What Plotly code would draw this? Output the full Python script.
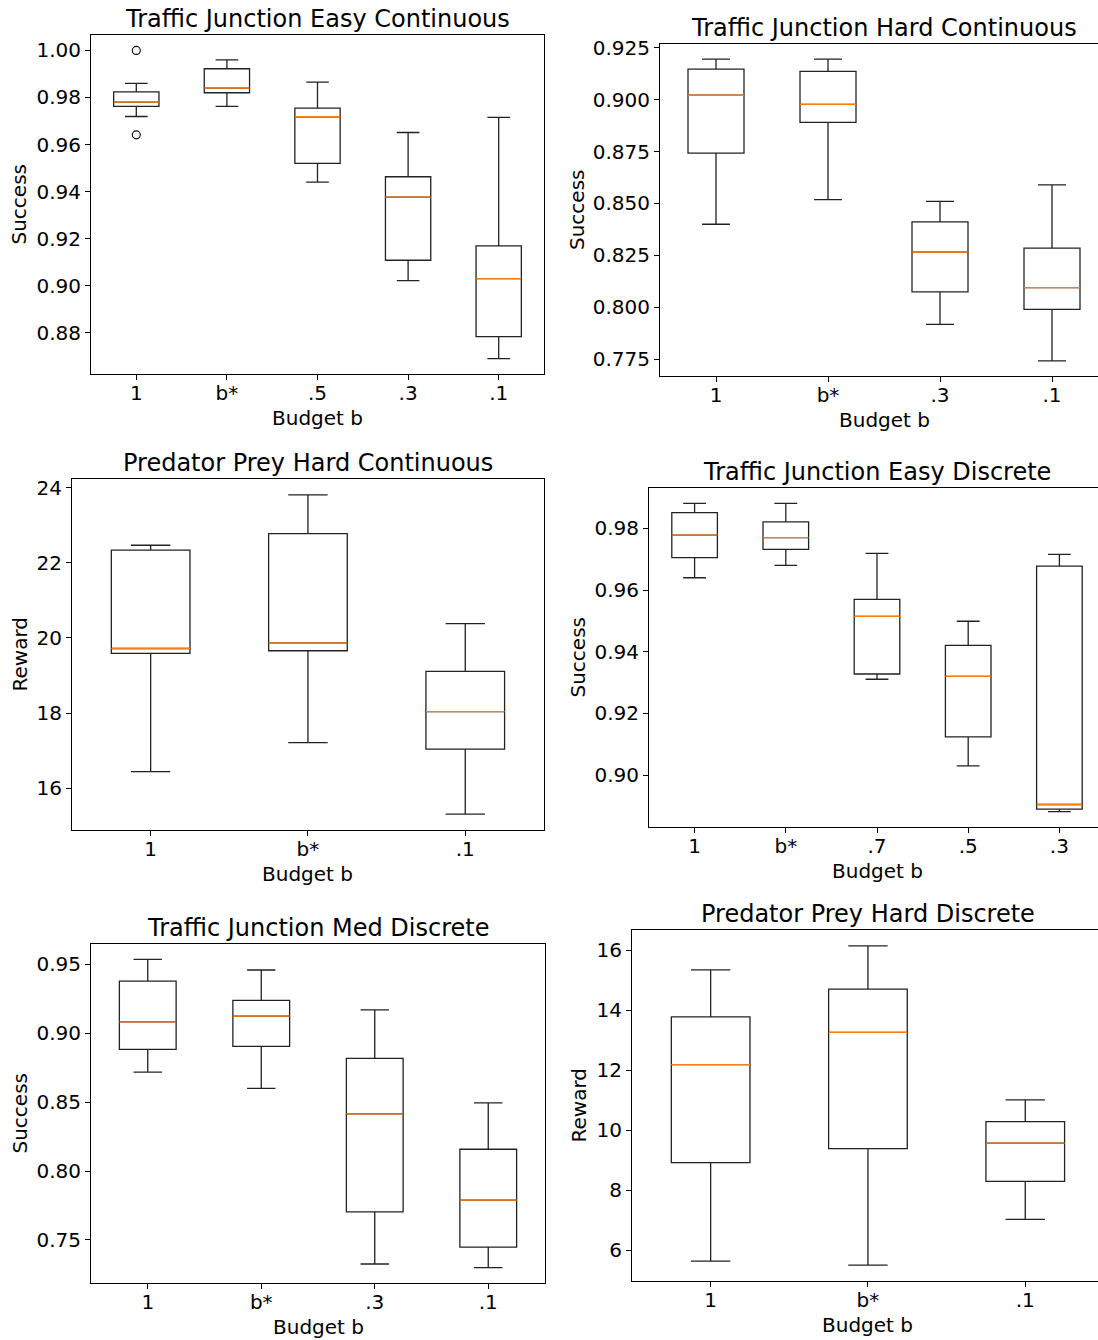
import plotly.graph_objects as go

# ---------------- DATA ----------------
# Panel 1: Traffic Junction Easy Continuous
tjec_labels = ["1", "b*", ".5", ".3", ".1"]
tjec_lo = [0.9719, 0.9762, 0.9440, 0.9021, 0.8690]
tjec_q1 = [0.9762, 0.9820, 0.9520, 0.9108, 0.8783]
tjec_med = [0.9780, 0.9840, 0.9718, 0.9376, 0.9030]
tjec_q3 = [0.9824, 0.9922, 0.9755, 0.9463, 0.9169]
tjec_hi = [0.9860, 0.9960, 0.9865, 0.9651, 0.9715]
tjec_out_x = ["1", "1"]
tjec_out_y = [1.000, 0.9641]

# Panel 2: Traffic Junction Hard Continuous
tjhc_labels = ["1", "b*", ".3", ".1"]
tjhc_lo = [0.8400, 0.8518, 0.7918, 0.7742]
tjhc_q1 = [0.8742, 0.8890, 0.8074, 0.7990]
tjhc_med = [0.9021, 0.8977, 0.8266, 0.8095]
tjhc_q3 = [0.9147, 0.9136, 0.8411, 0.8285]
tjhc_hi = [0.9195, 0.9195, 0.8510, 0.8589]

# Panel 3: Predator Prey Hard Continuous
pphc_labels = ["1", "b*", ".1"]
pphc_lo = [16.44, 17.21, 15.31]
pphc_q1 = [19.59, 19.66, 17.04]
pphc_med = [19.72, 19.87, 18.04]
pphc_q3 = [22.34, 22.78, 19.11]
pphc_hi = [22.47, 23.81, 20.38]

# Panel 4: Traffic Junction Easy Discrete
tjed_labels = ["1", "b*", ".7", ".5", ".3"]
tjed_lo = [0.9640, 0.9680, 0.9311, 0.9030, 0.8882]
tjed_q1 = [0.9705, 0.9732, 0.9328, 0.9124, 0.8890]
tjed_med = [0.9778, 0.9770, 0.9515, 0.9320, 0.8905]
tjed_q3 = [0.9851, 0.9821, 0.9570, 0.9421, 0.9678]
tjed_hi = [0.9881, 0.9881, 0.9719, 0.9499, 0.9716]

# Panel 5: Traffic Junction Med Discrete
tjmd_labels = ["1", "b*", ".3", ".1"]
tjmd_lo = [0.8718, 0.8600, 0.7325, 0.7299]
tjmd_q1 = [0.8883, 0.8905, 0.7704, 0.7447]
tjmd_med = [0.9083, 0.9124, 0.8415, 0.7789]
tjmd_q3 = [0.9379, 0.9238, 0.8818, 0.8158]
tjmd_hi = [0.9536, 0.9459, 0.9170, 0.8495]

# Panel 6: Predator Prey Hard Discrete
pphd_labels = ["1", "b*", ".1"]
pphd_lo = [5.64, 5.51, 7.03]
pphd_q1 = [8.92, 9.39, 8.30]
pphd_med = [12.19, 13.26, 9.57]
pphd_q3 = [13.78, 14.70, 10.29]
pphd_hi = [15.34, 16.14, 11.01]

# ---------------- LAYOUT CONSTANTS ----------------
W, H = 1098, 1340
FONT = "DejaVu Sans"
BOX_COLOR = "#222222"
MED_COLOR = "#ff7f0e"

panels = [
    dict(title="Traffic Junction Easy Continuous", ylabel="Success",
         labels=tjec_labels, lo=tjec_lo, q1=tjec_q1, med=tjec_med, q3=tjec_q3, hi=tjec_hi,
         out_x=tjec_out_x, out_y=tjec_out_y,
         box=(91, 544, 35, 374), spacing=90.6, dtick=0.02, fmt=".2f", ylab_x=19, right_cut=False),
    dict(title="Traffic Junction Hard Continuous", ylabel="Success",
         labels=tjhc_labels, lo=tjhc_lo, q1=tjhc_q1, med=tjhc_med, q3=tjhc_q3, hi=tjhc_hi,
         out_x=[], out_y=[],
         box=(660, 1098, 44, 376), spacing=112.0, dtick=0.025, fmt=".3f", ylab_x=577, right_cut=True),
    dict(title="Predator Prey Hard Continuous", ylabel="Reward",
         labels=pphc_labels, lo=pphc_lo, q1=pphc_q1, med=pphc_med, q3=pphc_q3, hi=pphc_hi,
         out_x=[], out_y=[],
         box=(72, 544, 479, 830), spacing=157.3, dtick=2, fmt="d", ylab_x=19, right_cut=False),
    dict(title="Traffic Junction Easy Discrete", ylabel="Success",
         labels=tjed_labels, lo=tjed_lo, q1=tjed_q1, med=tjed_med, q3=tjed_q3, hi=tjed_hi,
         out_x=[], out_y=[],
         box=(649, 1098, 488, 827), spacing=91.2, dtick=0.02, fmt=".2f", ylab_x=577, right_cut=True),
    dict(title="Traffic Junction Med Discrete", ylabel="Success",
         labels=tjmd_labels, lo=tjmd_lo, q1=tjmd_q1, med=tjmd_med, q3=tjmd_q3, hi=tjmd_hi,
         out_x=[], out_y=[],
         box=(91, 545, 944, 1283), spacing=113.5, dtick=0.05, fmt=".2f", ylab_x=19, right_cut=False),
    dict(title="Predator Prey Hard Discrete", ylabel="Reward",
         labels=pphd_labels, lo=pphd_lo, q1=pphd_q1, med=pphd_med, q3=pphd_q3, hi=pphd_hi,
         out_x=[], out_y=[],
         box=(632, 1098, 930, 1281), spacing=157.3, dtick=2, fmt="d", ylab_x=578, right_cut=True),
]

fig = go.Figure()
annotations = []
layout = {}

for i, p in enumerate(panels, start=1):
    sfx = "" if i == 1 else str(i)
    xa, ya = "x" + sfx, "y" + sfx
    left, right, top, bottom = p["box"]
    n = len(p["labels"])
    pos = list(range(1, n + 1))
    label_pos = dict(zip(p["labels"], pos))

    # main boxes
    fig.add_trace(go.Box(
        x=pos, q1=p["q1"], median=p["med"], q3=p["q3"],
        lowerfence=p["lo"], upperfence=p["hi"],
        width=0.5, whiskerwidth=0.5, boxpoints=False,
        fillcolor="rgba(255,255,255,0)",
        line=dict(color=BOX_COLOR, width=1.3),
        xaxis=xa, yaxis=ya, showlegend=False, hoverinfo="skip"))
    # orange median lines
    fig.add_trace(go.Box(
        x=pos, q1=p["med"], median=p["med"], q3=p["med"],
        lowerfence=p["med"], upperfence=p["med"],
        width=0.5, whiskerwidth=0.0, boxpoints=False,
        fillcolor="rgba(255,255,255,0)",
        line=dict(color=MED_COLOR, width=1.3),
        xaxis=xa, yaxis=ya, showlegend=False, hoverinfo="skip"))
    # outliers
    if p["out_y"]:
        fig.add_trace(go.Scatter(
            x=[label_pos[v] for v in p["out_x"]], y=p["out_y"], mode="markers",
            marker=dict(symbol="circle-open", size=8, color="black", line=dict(width=1.1)),
            xaxis=xa, yaxis=ya, showlegend=False, hoverinfo="skip"))

    # ranges (matplotlib-like 5% padding)
    vals = p["lo"] + p["hi"] + p["out_y"]
    vmin, vmax = min(vals), max(vals)
    pad = 0.05 * (vmax - vmin)
    x_end = 0.5 + (right - left) / p["spacing"]

    layout["xaxis" + sfx] = dict(
        domain=[left / W, right / W], anchor=ya, range=[0.5, x_end],
        tickmode="array", tickvals=pos, ticktext=p["labels"],
        showline=True, linecolor="black", linewidth=1, mirror=True,
        ticks="outside", ticklen=5, tickcolor="black", tickwidth=1,
        ticklabelstandoff=-4,
        showgrid=False, zeroline=False, automargin=False,
        tickfont=dict(family=FONT, size=20, color="black"))
    layout["yaxis" + sfx] = dict(
        domain=[1 - bottom / H, 1 - top / H], anchor=xa,
        range=[vmin - pad, vmax + pad], dtick=p["dtick"], tick0=0,
        tickformat=p["fmt"],
        showline=True, linecolor="black", linewidth=1,
        mirror=not p["right_cut"],
        ticks="outside", ticklen=5, tickcolor="black", tickwidth=1,
        showgrid=False, zeroline=False, automargin=False,
        tickfont=dict(family=FONT, size=20, color="black"))

    full_right = left + n * p["spacing"]
    cx = (left + full_right) / 2
    # title
    annotations.append(dict(
        text=p["title"], x=cx / W, y=1 - (top - 16) / H, xref="paper", yref="paper",
        xanchor="center", yanchor="middle", showarrow=False,
        font=dict(family=FONT, size=24, color="black")))
    # x label
    annotations.append(dict(
        text="Budget b", x=cx / W, y=1 - (bottom + 44) / H, xref="paper", yref="paper",
        xanchor="center", yanchor="middle", showarrow=False,
        font=dict(family=FONT, size=20, color="black")))
    # y label
    annotations.append(dict(
        text=p["ylabel"], x=p["ylab_x"] / W, y=1 - ((top + bottom) / 2) / H,
        xref="paper", yref="paper", xanchor="center", yanchor="middle",
        textangle=-90, showarrow=False,
        font=dict(family=FONT, size=20, color="black")))

fig.update_layout(
    width=W, height=H,
    margin=dict(l=0, r=0, t=0, b=0, pad=0, autoexpand=False),
    paper_bgcolor="white", plot_bgcolor="white",
    boxmode="overlay",
    annotations=annotations,
    font=dict(family=FONT, color="black"),
    **layout)

fig.write_html("out.html")
